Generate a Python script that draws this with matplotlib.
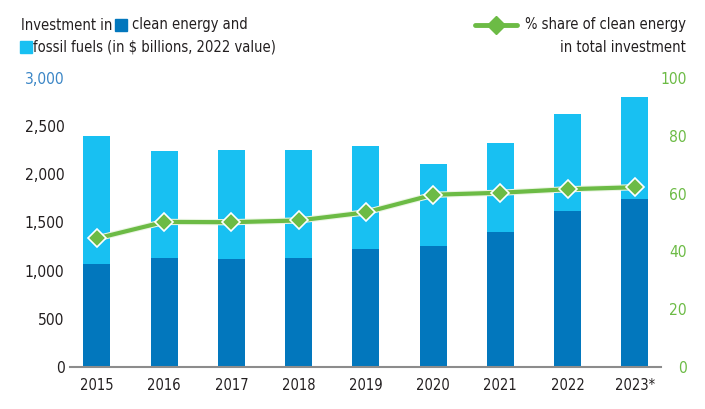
import matplotlib
matplotlib.use("Agg")
import matplotlib.pyplot as plt
import matplotlib.ticker as mticker
from matplotlib.patches import Rectangle
from matplotlib.lines import Line2D
from matplotlib import font_manager
import matplotlib.patheffects as pe
import numpy as np

# ── data ──────────────────────────────────────────────────────
years = ["2015", "2016", "2017", "2018", "2019", "2020", "2021", "2022", "2023*"]
clean = [1073, 1135, 1125, 1135, 1229, 1260, 1406, 1615, 1740]
total = [2396, 2240, 2250, 2250, 2292, 2104, 2323, 2625, 2802]
fossil = [t - c for t, c in zip(total, clean)]
share = [44.5, 50.2, 50.1, 50.7, 53.5, 59.6, 60.3, 61.5, 62.2]

left_ticks = [0, 500, 1000, 1500, 2000, 2500, 3000]
right_ticks = [0, 20, 40, 60, 80, 100]

# ── colours ───────────────────────────────────────────────────
C_CLEAN = "#0277bd"
C_FOSSIL = "#18c0f2"
C_GREEN = "#6cbb45"
C_TEXT = "#231f20"
C_BLUE_LBL = "#3b86c6"
C_AXIS = "#8c8c8c"

# pick a condensed face if one is around (reference uses a narrow font)
cond = [f for f in font_manager.fontManager.ttflist
        if ("Condensed" in f.fname or "Narrow" in f.fname)
        and "Bold" not in f.fname and "Oblique" not in f.fname
        and "Italic" not in f.fname]
if cond:
    plt.rcParams["font.family"] = [cond[0].name, "DejaVu Sans"]
    plt.rcParams["font.stretch"] = "condensed"
    FS = 10.5
else:
    plt.rcParams["font.family"] = ["DejaVu Sans"]
    FS = 9.5
FS_Y = FS + 0.7

W, H = 705, 409
fig = plt.figure(figsize=(W / 100, H / 100), dpi=100)
ax = fig.add_axes([70 / W, 1 - 367 / H, 591 / W, 289 / H])

x = np.arange(len(years))
ax.bar(x, clean, width=0.4, color=C_CLEAN, zorder=2)
ax.bar(x, fossil, width=0.4, bottom=clean, color=C_FOSSIL, zorder=2)

ax.set_xlim(-0.4, 8.39)
ax.set_ylim(0, 3000)
ax.set_yticks(left_ticks)
ax.yaxis.set_major_formatter(mticker.FuncFormatter(lambda v, _: f"{v:,.0f}"))
ax.set_xticks(x)
ax.set_xticklabels(years)
ax.tick_params(axis="both", length=0, colors=C_TEXT)
ax.tick_params(axis="x", pad=8, labelsize=FS)
ax.tick_params(axis="y", pad=4, labelsize=FS_Y)
ax.get_yticklabels()[-1].set_color(C_BLUE_LBL)
for s in ["top", "left", "right"]:
    ax.spines[s].set_visible(False)
ax.spines["bottom"].set_color(C_AXIS)
ax.spines["bottom"].set_linewidth(1.5)

# secondary axis for share line, labels right-aligned near x=687px
ax2 = ax.twinx()
ax2.set_ylim(0, 100)
ax2.set_yticks(right_ticks)
ax2.tick_params(axis="y", length=0, colors=C_GREEN, labelsize=FS_Y,
                pad=26 * 72 / 100)
for lbl in ax2.get_yticklabels():
    lbl.set_horizontalalignment("right")
for s in ax2.spines.values():
    s.set_visible(False)
ax2.plot(x, share, color=C_GREEN, linewidth=3,
         path_effects=[pe.Stroke(linewidth=4.5, foreground="#eaf5e2"), pe.Normal()],
         zorder=5)
ax2.plot(x, share, linestyle="none", marker="D", markersize=9,
         markerfacecolor=C_GREEN, markeredgecolor="white", markeredgewidth=1.2,
         zorder=6)

# ── header / legend texts (placed from rendered widths) ───────
fig.canvas.draw()
rend = fig.canvas.get_renderer()

y1 = 1 - 25 / H
y2 = 1 - 47 / H
t1 = fig.text(21 / W, y1, "Investment in", ha="left", va="center",
              color=C_TEXT, fontsize=FS)
sq1 = t1.get_window_extent(rend).x1 + 3
fig.patches.append(Rectangle((sq1 / W, y1 - 6 / H), 12 / W, 12 / H,
                             transform=fig.transFigure, color=C_CLEAN))
fig.text((sq1 + 17) / W, y1, "clean energy and", ha="left", va="center",
         color=C_TEXT, fontsize=FS)
fig.patches.append(Rectangle((20 / W, y2 - 6 / H), 12 / W, 12 / H,
                             transform=fig.transFigure, color=C_FOSSIL))
fig.text(33 / W, y2, "fossil fuels (in $ billions, 2022 value)",
         ha="left", va="center", color=C_TEXT, fontsize=FS)

t3 = fig.text(686 / W, y1, "% share of clean energy", ha="right",
              va="center", color=C_TEXT, fontsize=FS)
lx1 = t3.get_window_extent(rend).x0 - 8
lx0 = lx1 - 42
fig.lines.append(Line2D([lx0 / W, lx1 / W], [y1, y1],
                        transform=fig.transFigure, color=C_GREEN, linewidth=3.5,
                        solid_capstyle="round"))
fig.lines.append(Line2D([(lx0 + lx1) / 2 / W], [y1], transform=fig.transFigure,
                        marker="D", markersize=9, color=C_GREEN,
                        markeredgecolor=C_GREEN, linestyle="none"))
fig.text(686 / W, y2, "in total investment", ha="right",
         va="center", color=C_TEXT, fontsize=FS)

fig.savefig("out.png", dpi=100)
